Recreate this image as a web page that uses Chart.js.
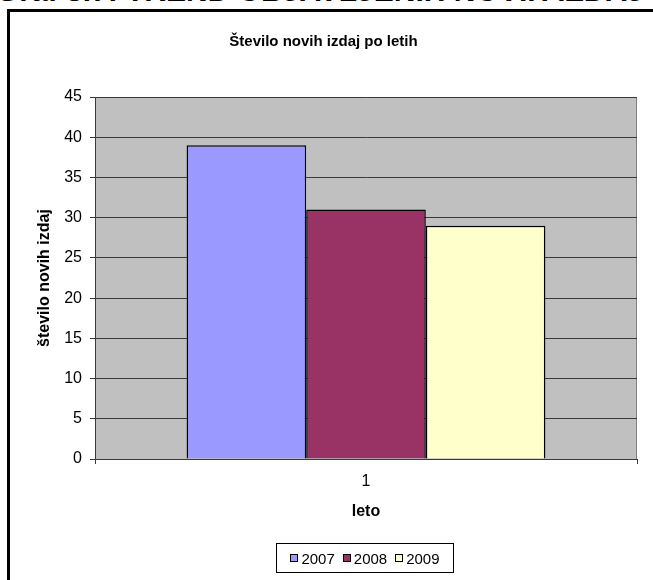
<!DOCTYPE html>
<html>
<head>
<meta charset="utf-8">
<script src="https://cdn.jsdelivr.net/npm/chart.js@4"></script>
<style>
  body { margin: 0; background: #fff; width: 653px; height: 580px; overflow: hidden; position: relative; }
  #heading { position: absolute; left: -4px; top: -24px; font: bold 30px "Liberation Sans", Arial, sans-serif; line-height: 1; white-space: nowrap; color: #000; }
  #frame { position: absolute; left: 7px; top: 9px; width: 700px; height: 700px; border-left: 3px solid #000; border-top: 3px solid #000; background: #fff; }
  #chart { position: absolute; left: 0; top: 0; }
  #legend { position: absolute; left: 276px; top: 543px; width: 176px; height: 28px; border: 1px solid #000; display: flex; align-items: center; justify-content: center; font: 15px "Liberation Sans", Arial, sans-serif; color: #000; }
  .item { display: flex; align-items: center; margin: 0 4px; }
  .swatch { width: 6px; height: 6px; border: 1px solid #000; margin-right: 3px; }
</style>
</head>
<body>
<div id="heading">Graf 3.7: TREND OBJAVLJENIH NOVIH IZDAJ</div>
<div id="frame"></div>
<canvas id="chart" width="653" height="580"></canvas>
<div id="legend"></div>
<script>
const categories = ["1"];
const years = ["2007", "2008", "2009"];
const values = [39, 31, 29];
const colors = ["#9999FF", "#993366", "#FFFFCC"];
const yTicks = [0, 5, 10, 15, 20, 25, 30, 35, 40, 45];

const fontName = "'Liberation Sans', Arial, sans-serif";
const dark = "#3a3a3a";

const datasets = years.map((y, i) => ({
  label: y,
  data: [values[i]],
  backgroundColor: colors[i],
  borderColor: "#000",
  borderWidth: 1.5,
}));

// gray plot area
const plotBg = {
  id: "plotBg",
  beforeDraw: (chart) => {
    const a = chart.chartArea;
    const ctx = chart.ctx;
    ctx.save();
    ctx.fillStyle = "#C0C0C0";
    ctx.fillRect(a.left, a.top, a.right - a.left, a.bottom - a.top);
    ctx.strokeStyle = "#808080";
    ctx.lineWidth = 1;
    ctx.strokeRect(a.left + 0.5, a.top + 0.5, a.right - a.left - 1, a.bottom - a.top);
    ctx.restore();
  },
};

const chart = new Chart(document.getElementById("chart"), {
  type: "bar",
  data: { labels: categories, datasets: datasets },
  plugins: [plotBg],
  options: {
    responsive: false,
    animation: false,
    categoryPercentage: 0.662,
    barPercentage: 1,
    layout: { padding: { top: 12, left: 10, right: 16, bottom: 51 } },
    plugins: {
      legend: { display: false },
      tooltip: { enabled: false },
      title: {
        display: true,
        text: "Število novih izdaj po letih",
        color: "#000",
        font: { family: fontName, size: 15, weight: "bold" },
        padding: { top: 21, bottom: 46 },
      },
    },
    scales: {
      x: {
        afterFit: (s) => { s.height = 70; },
        grid: { display: true, drawOnChartArea: false, offset: true, tickLength: 5, color: dark },
        border: { display: true, color: dark },
        ticks: { color: "#000", padding: 8, font: { family: fontName, size: 16 } },
        title: {
          display: true,
          text: "leto",
          color: "#000",
          font: { family: fontName, size: 16, weight: "bold" },
          padding: { top: 0, bottom: 7.4 },
        },
      },
      y: {
        min: 0,
        max: 45,
        afterFit: (s) => { s.width = 85; },
        afterBuildTicks: (s) => { s.ticks = yTicks.map((v) => ({ value: v })); },
        grid: { color: dark, tickLength: 5, drawTicks: true },
        border: { display: true, color: dark },
        ticks: { color: "#000", padding: 8, font: { family: fontName, size: 16 } },
        title: {
          display: true,
          text: "število novih izdaj",
          color: "#000",
          font: { family: fontName, size: 16, weight: "bold" },
          padding: { top: 25.4, bottom: 0 },
        },
      },
    },
  },
});

// legend built from the datasets
const legend = document.getElementById("legend");
chart.data.datasets.forEach((ds) => {
  const item = document.createElement("div");
  item.className = "item";
  const sw = document.createElement("div");
  sw.className = "swatch";
  sw.style.background = ds.backgroundColor;
  const txt = document.createElement("span");
  txt.textContent = ds.label;
  item.appendChild(sw);
  item.appendChild(txt);
  legend.appendChild(item);
});
</script>
</body>
</html>
